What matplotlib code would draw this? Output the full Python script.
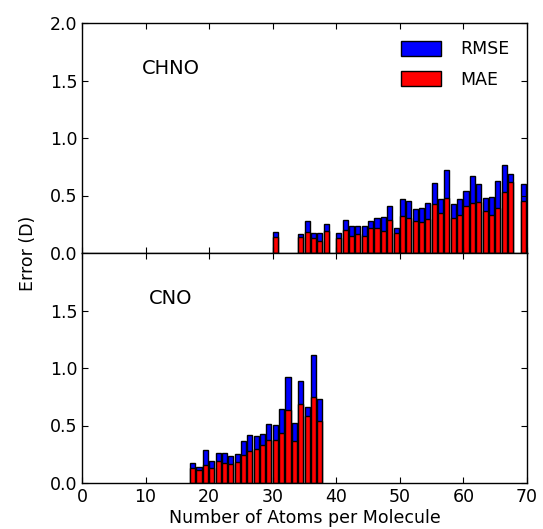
import matplotlib
matplotlib.use("Agg")
import matplotlib.pyplot as plt

# CHNO panel data
chno_atoms = [30, 34, 35, 36, 37, 38, 40, 41, 42, 43, 44, 45, 46, 47, 48, 49,
              50, 51, 52, 53, 54, 55, 56, 57, 58, 59, 60, 61, 62, 63, 64, 65,
              66, 67, 69]
chno_rmse = [0.186, 0.162, 0.275, 0.177, 0.174, 0.255, 0.171, 0.290, 0.235,
             0.232, 0.232, 0.278, 0.301, 0.316, 0.412, 0.217, 0.472, 0.449,
             0.386, 0.388, 0.435, 0.609, 0.467, 0.725, 0.423, 0.467, 0.539,
             0.667, 0.603, 0.481, 0.484, 0.626, 0.762, 0.684, 0.600]
chno_mae = [0.142, 0.136, 0.183, 0.128, 0.104, 0.191, 0.128, 0.197, 0.148,
            0.162, 0.145, 0.214, 0.214, 0.191, 0.284, 0.171, 0.319, 0.301,
            0.275, 0.267, 0.299, 0.423, 0.351, 0.475, 0.304, 0.330, 0.406,
            0.438, 0.441, 0.362, 0.333, 0.388, 0.528, 0.620, 0.449]

# CNO panel data
cno_atoms = list(range(17, 38))
cno_rmse = [0.171, 0.136, 0.287, 0.188, 0.264, 0.261, 0.232, 0.249, 0.368,
            0.414, 0.412, 0.423, 0.516, 0.501, 0.641, 0.919, 0.522, 0.884,
            0.658, 1.116, 0.728]
cno_mae = [0.133, 0.110, 0.159, 0.133, 0.191, 0.174, 0.162, 0.183, 0.241,
           0.275, 0.299, 0.328, 0.377, 0.374, 0.438, 0.632, 0.368, 0.684,
           0.583, 0.745, 0.542]

panel_labels = ["CHNO", "CNO"]
series_labels = ["RMSE", "MAE"]
y_ticks = [0.0, 0.5, 1.0, 1.5, 2.0]
x_ticks = [0, 10, 20, 30, 40, 50, 60, 70]

fig = plt.figure(figsize=(5.43, 5.29), dpi=100)
left, right = 82 / 543, 527 / 543
top = 1 - 23 / 529
mid = 1 - 253 / 529
bot = 1 - 483 / 529
ax1 = fig.add_axes([left, mid, right - left, top - mid])
ax2 = fig.add_axes([left, bot, right - left, mid - bot], sharex=ax1)

datasets = [(chno_atoms, chno_rmse, chno_mae), (cno_atoms, cno_rmse, cno_mae)]
for ax, (atoms, rmse, mae), lab in zip([ax1, ax2], datasets, panel_labels):
    ax.bar(atoms, rmse, width=0.8, align="edge", color="#0000ff",
           edgecolor="black", linewidth=1.0, label=series_labels[0])
    ax.bar(atoms, mae, width=0.8, align="edge", color="#ff0000",
           edgecolor="black", linewidth=1.0, label=series_labels[1])
    ax.set_xlim(0, 70)
    ax.set_ylim(0, 2.0)
    ax.set_xticks(x_ticks)
    ax.set_yticks(y_ticks)
    ax.tick_params(direction="in", top=True, right=True, labelsize=12.5,
                   length=4, width=0.8)
    ax.text(14, 1.6, lab, ha="center", va="center", fontsize=14)
    for s in ax.spines.values():
        s.set_linewidth(1.0)

ax1.tick_params(labelbottom=False)
ax2.set_yticks(y_ticks[:-1])
ax2.set_xlabel("Number of Atoms per Molecule", fontsize=12.5, labelpad=2)
fig.text(0.052, mid, "Error (D)", rotation=90, ha="center", va="center",
         fontsize=12.5)
ax1.legend(loc="upper right", frameon=False, fontsize=12.5,
           handlelength=2.3, handleheight=0.9, handletextpad=1.1,
           labelspacing=0.7, borderaxespad=0.6)

fig.savefig("out.png", dpi=100)
